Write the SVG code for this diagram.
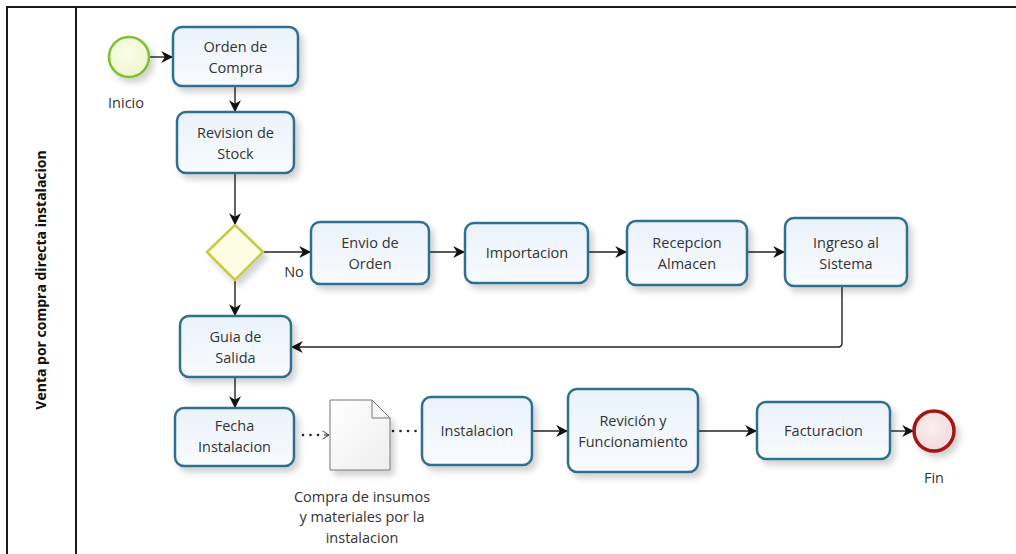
<svg xmlns="http://www.w3.org/2000/svg" width="1016" height="554" viewBox="0 0 1016 554">
  <defs>
    <linearGradient id="taskFill" x1="0" y1="0" x2="0" y2="1">
      <stop offset="0" stop-color="#eaf2fb"/>
      <stop offset="1" stop-color="#f9fbfe"/>
    </linearGradient>
    <radialGradient id="startFill" cx="0.45" cy="0.4" r="0.6">
      <stop offset="0" stop-color="#fbfde9"/>
      <stop offset="1" stop-color="#eef6cf"/>
    </radialGradient>
    <radialGradient id="endFill" cx="0.45" cy="0.4" r="0.6">
      <stop offset="0" stop-color="#fbeff0"/>
      <stop offset="1" stop-color="#f2d9dc"/>
    </radialGradient>
    <linearGradient id="docFill" x1="0" y1="0" x2="1" y2="1">
      <stop offset="0" stop-color="#ffffff"/>
      <stop offset="1" stop-color="#eeeeee"/>
    </linearGradient>
    <filter id="shadow" x="-20%" y="-20%" width="150%" height="160%">
      <feGaussianBlur in="SourceAlpha" stdDeviation="3"/>
      <feOffset dx="4" dy="5" result="b"/>
      <feComponentTransfer><feFuncA type="linear" slope="0.18"/></feComponentTransfer>
      <feMerge><feMergeNode/><feMergeNode in="SourceGraphic"/></feMerge>
    </filter>
    <marker id="arrow" viewBox="0 0 10 10" refX="9" refY="5" markerWidth="12" markerHeight="12" markerUnits="userSpaceOnUse" orient="auto">
      <path d="M0,0 L10,5 L0,10 L3,5 Z" fill="#111"/>
    </marker>
    <marker id="openArrow" viewBox="0 0 10 12" refX="9" refY="6" markerWidth="8" markerHeight="12" markerUnits="userSpaceOnUse" orient="auto">
      <path d="M1,1 L9,6 L1,11" fill="none" stroke="#333" stroke-width="1.2"/>
    </marker>
  </defs>
  <style>
    .task { fill: url(#taskFill); stroke: #2f6f92; stroke-width: 2.5; filter: url(#shadow); }
    .label { font-family: "Open Sans", "Noto Sans", sans-serif; font-size: 14.5px; fill: #333; text-anchor: middle; }
    .flow { fill: none; stroke: #222; stroke-width: 1.4; marker-end: url(#arrow); }
    .assoc { fill: none; stroke: #222; stroke-width: 2.6; stroke-dasharray: 0.01 7.5; stroke-linecap: round; }
    .frame { stroke: #1a1a1a; stroke-width: 2; fill: none; }
  </style>
  <rect width="1016" height="554" fill="#ffffff"/>

  <!-- pool / lane frame -->
  <g id="lane">
    <line class="frame" x1="7" y1="7" x2="1016" y2="7"/>
    <line class="frame" x1="7" y1="6" x2="7" y2="554"/>
    <line class="frame" x1="76" y1="7" x2="76" y2="554" stroke="#444"/>
    <text transform="translate(46,280) rotate(-90)" font-family="'Open Sans', 'Noto Sans', sans-serif" font-size="14" font-weight="bold" fill="#111" text-anchor="middle">Venta por compra directa instalacion</text>
  </g>

  <!-- connectors -->
  <g id="connectors">
    <line class="flow" x1="150" y1="57" x2="172" y2="57"/>
    <line class="flow" x1="235" y1="87" x2="235" y2="111"/>
    <line class="flow" x1="235" y1="174" x2="235" y2="224"/>
    <line class="flow" x1="263" y1="252" x2="310" y2="252"/>
    <line class="flow" x1="430" y1="252" x2="464" y2="252"/>
    <line class="flow" x1="589" y1="252" x2="626" y2="252"/>
    <line class="flow" x1="748" y1="252" x2="784" y2="252"/>
    <path class="flow" d="M842,287 L842,343 Q842,347 838,347 L292,347"/>
    <line class="flow" x1="235" y1="280" x2="235" y2="315"/>
    <line class="flow" x1="235" y1="378" x2="235" y2="407"/>
    <line class="flow" x1="533" y1="431" x2="567" y2="431"/>
    <line class="flow" x1="699" y1="431" x2="756" y2="431"/>
    <line class="flow" x1="891" y1="431" x2="913" y2="431"/>
    <!-- data associations (dotted) -->
    <line class="assoc" x1="303" y1="435" x2="320" y2="435"/>
    <line fill="none" stroke="#333" stroke-width="1.2" x1="324" y1="435" x2="329" y2="435" marker-end="url(#openArrow)"/>
    <line class="assoc" x1="393" y1="431" x2="418" y2="431"/>
    <text class="label" x="294" y="277">No</text>
  </g>

  <!-- start event -->
  <g id="inicio">
    <circle cx="129" cy="57" r="20" fill="url(#startFill)" stroke="#7fbf2f" stroke-width="2.5" filter="url(#shadow)"/>
    <text class="label" x="126" y="108">Inicio</text>
  </g>

  <g id="orden-compra">
    <rect class="task" x="173" y="27" width="125" height="59" rx="9"/>
    <text class="label" x="235.5" y="52">Orden de</text>
    <text class="label" x="235.5" y="73">Compra</text>
  </g>

  <g id="revision-stock">
    <rect class="task" x="177" y="112" width="117" height="61" rx="9"/>
    <text class="label" x="235.5" y="138">Revision de</text>
    <text class="label" x="235.5" y="159">Stock</text>
  </g>

  <!-- gateway -->
  <g id="gateway">
    <path d="M235,225 L263,252 L235,280 L207,252 Z" fill="#fdfde3" stroke="#c8c84a" stroke-width="2.5" stroke-linejoin="round" filter="url(#shadow)"/>
  </g>

  <g id="envio-orden">
    <rect class="task" x="311" y="222" width="118" height="62" rx="9"/>
    <text class="label" x="370" y="248">Envio de</text>
    <text class="label" x="370" y="269">Orden</text>
  </g>

  <g id="importacion">
    <rect class="task" x="465" y="223" width="123" height="60" rx="9"/>
    <text class="label" x="527" y="258">Importacion</text>
  </g>

  <g id="recepcion-almacen">
    <rect class="task" x="627" y="221" width="120" height="64" rx="9"/>
    <text class="label" x="687" y="248">Recepcion</text>
    <text class="label" x="687" y="269">Almacen</text>
  </g>

  <g id="ingreso-sistema">
    <rect class="task" x="785" y="218" width="122" height="68" rx="9"/>
    <text class="label" x="846" y="248">Ingreso al</text>
    <text class="label" x="846" y="269">Sistema</text>
  </g>

  <g id="guia-salida">
    <rect class="task" x="180" y="316" width="111" height="61" rx="9"/>
    <text class="label" x="235.5" y="342">Guia de</text>
    <text class="label" x="235.5" y="363">Salida</text>
  </g>

  <g id="fecha-instalacion">
    <rect class="task" x="175" y="408" width="119" height="58" rx="9"/>
    <text class="label" x="234.5" y="431">Fecha</text>
    <text class="label" x="234.5" y="452">Instalacion</text>
  </g>

  <!-- data object -->
  <g id="compra-insumos">
    <path d="M330,400 L372,400 L390,418 L390,470 L330,470 Z" fill="url(#docFill)" stroke="#777" stroke-width="1" filter="url(#shadow)"/>
    <path d="M372,400 L372,418 L390,418" fill="none" stroke="#777" stroke-width="1"/>
    <text class="label" x="362" y="502">Compra de insumos</text>
    <text class="label" x="362" y="522">y materiales por la</text>
    <text class="label" x="362" y="543">instalacion</text>
  </g>

  <g id="instalacion">
    <rect class="task" x="422" y="397" width="110" height="68" rx="9"/>
    <text class="label" x="477" y="436">Instalacion</text>
  </g>

  <g id="revicion-funcionamiento">
    <rect class="task" x="568" y="389" width="130" height="83" rx="9"/>
    <text class="label" x="633" y="426">Revición y</text>
    <text class="label" x="633" y="447">Funcionamiento</text>
  </g>

  <g id="facturacion">
    <rect class="task" x="757" y="402" width="133" height="57" rx="9"/>
    <text class="label" x="823.5" y="436">Facturacion</text>
  </g>

  <!-- end event -->
  <g id="fin">
    <circle cx="934" cy="431" r="20" fill="url(#endFill)" stroke="#a31515" stroke-width="3.5" filter="url(#shadow)"/>
    <text class="label" x="934" y="483">Fin</text>
  </g>
</svg>
